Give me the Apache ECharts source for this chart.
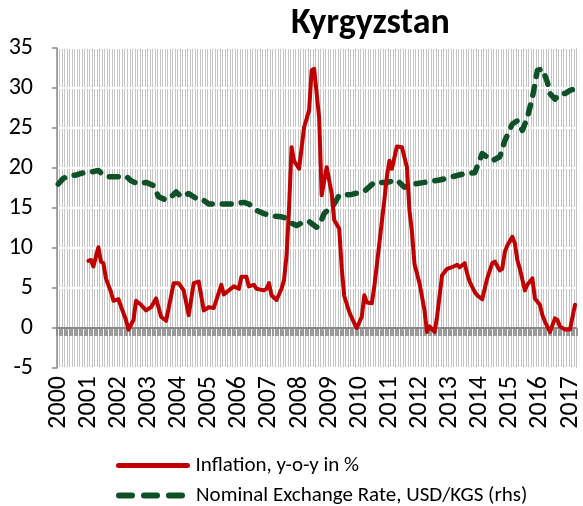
<!DOCTYPE html>
<html>
<head>
<meta charset="utf-8">
<title>Kyrgyzstan</title>
<script src="https://cdn.jsdelivr.net/npm/echarts@6/dist/echarts.min.js"></script>
<style>
html, body { margin: 0; padding: 0; background: #fff; }
#main { width: 583px; height: 506px; }
</style>
</head>
<body>
<div id="main"></div>
<script>
//monthly categories, Jan 2000 - Mar 2017
var months = [];
for (var y = 2000; y <= 2017; y++) {
	for (var mo = 1; mo <= 12; mo++) {
		if (y == 2017 && mo > 3) break;
		months.push(y + '-' + (mo < 10 ? '0' + mo : mo));
	}
}

//Inflation, y-o-y in %
var inflationMonths = ['2001-01','2001-02','2001-03','2001-05','2001-06','2001-07','2001-08','2001-10','2001-11',
	'2002-01','2002-02','2002-04','2002-05','2002-07','2002-08','2002-10','2002-12',
	'2003-02','2003-04','2003-06','2003-08','2003-11','2004-01','2004-03','2004-05','2004-07','2004-09','2004-11',
	'2005-01','2005-03','2005-06','2005-07','2005-09','2005-11','2006-01','2006-02','2006-04','2006-05','2006-07','2006-08','2006-11','2006-12',
	'2007-01','2007-02','2007-04','2007-06','2007-07','2007-08','2007-09','2007-10','2007-11',
	'2008-01','2008-03','2008-05','2008-06','2008-07','2008-09','2008-10','2008-12',
	'2009-02','2009-03','2009-05','2009-06','2009-07','2009-09','2009-11','2009-12',
	'2010-02','2010-03','2010-04','2010-06','2010-07','2010-09','2010-11','2010-12',
	'2011-01','2011-02','2011-04','2011-06','2011-08','2011-09','2011-10','2011-11',
	'2012-01','2012-03','2012-04','2012-05','2012-07','2012-08','2012-10','2012-12',
	'2013-02','2013-04','2013-05','2013-07','2013-08','2013-09','2013-11','2013-12',
	'2014-02','2014-04','2014-06','2014-07','2014-09','2014-10','2014-11','2014-12',
	'2015-02','2015-03','2015-04','2015-05','2015-07','2015-08','2015-10','2015-11',
	'2016-01','2016-02','2016-03','2016-05','2016-07','2016-08','2016-09','2016-11',
	'2017-01','2017-02','2017-03'];
var inflationValues = [8.4,8.5,7.7,10.1,8.3,8.1,6.2,4.5,3.4,
	3.6,2.7,1.0,-0.2,1.0,3.4,2.9,2.2,
	2.6,3.7,1.4,0.9,5.6,5.6,4.7,1.6,5.6,5.8,2.2,
	2.6,2.5,5.4,4.2,4.7,5.2,4.9,6.4,6.4,5.2,5.4,4.9,4.7,4.9,
	5.6,4.1,3.5,4.9,6.0,9.0,15.0,22.6,20.9,
	19.9,25.1,27.2,32.2,32.4,26.3,16.6,20.1,
	16.8,13.5,12.4,7.5,4.0,2.0,0.6,0.0,
	1.4,4.1,3.2,3.1,5.2,10.6,16.0,18.9,
	20.9,19.9,22.7,22.6,20.1,14.7,12.0,8.0,
	5.6,2.2,-0.5,0.2,-0.5,1.4,6.6,7.4,
	7.6,7.9,7.6,8.1,6.8,5.8,4.5,4.1,
	3.6,6.2,8.1,8.3,7.2,7.4,9.5,10.3,
	11.4,10.6,8.5,7.4,4.7,5.4,6.2,3.7,
	2.9,1.6,0.8,-0.5,1.2,1.0,0.2,-0.2,
	-0.2,1.4,2.9];

//Nominal Exchange Rate, USD/KGS (rhs)
var rateMonths = ['2000-01','2000-03','2000-06','2000-08','2000-11','2001-01','2001-05','2001-07','2001-09',
	'2002-01','2002-04','2002-06','2002-09','2002-12','2003-03','2003-05','2003-08','2003-10','2003-12',
	'2004-02','2004-05','2004-08','2004-10','2005-01','2005-07','2005-11','2006-03','2006-05','2006-08','2006-11',
	'2007-02','2007-06','2007-08','2007-10','2007-12','2008-03','2008-05','2008-08','2008-09','2008-11',
	'2009-03','2009-05','2009-10','2010-03','2010-07','2010-12','2011-04','2011-07','2011-11',
	'2012-03','2012-09','2013-02','2013-07','2013-11','2014-02','2014-06','2014-09','2014-11',
	'2015-02','2015-04','2015-06','2015-08','2015-10','2015-12','2016-02','2016-04','2016-05','2016-07','2016-09','2016-11',
	'2017-01','2017-03'];
var rateValues = [18.0,18.7,19.1,19.1,19.4,19.4,19.7,19.1,18.9,
	18.9,19.0,18.4,18.0,18.2,17.8,16.4,16.0,16.4,17.0,
	16.4,16.8,16.2,16.2,15.5,15.5,15.5,15.7,15.5,14.7,14.3,
	14.0,13.9,13.7,13.1,12.8,13.3,13.3,12.6,12.8,14.3,
	15.5,16.6,16.7,17.1,18.2,18.2,18.5,17.6,18.0,
	18.2,18.5,18.9,19.3,19.4,21.8,20.9,21.4,23.4,
	25.5,25.9,24.7,26.3,28.8,32.2,32.4,30.7,29.3,28.6,29.3,29.3,
	29.7,29.9];

var seriesNames = ['Inflation, y-o-y in %', 'Nominal Exchange Rate, USD/KGS (rhs)'];
var FONT = 'Carlito, Lato, sans-serif';

function toPairs(ms, vs) {
	var arr = [];
	for (var i = 0; i < ms.length; i++) {
		arr.push([ms[i], vs[i]]);
	}
	return arr;
}

//one legend per row, so they stack
function legendRow(name, top, lineStyle) {
	return {
		left: 111,
		top: top,
		itemWidth: 69,
		itemHeight: 20,
		itemStyle: { opacity: 0 },
		textStyle: { fontFamily: FONT, fontSize: 21, color: '#000', padding: [0, 0, 0, 3] },
		data: [{ name: name, lineStyle: lineStyle, itemStyle: { opacity: 0 } }]
	};
}

var myChart = echarts.init(document.getElementById('main'));
var option = {
	animation: false,
	title: {
		text: 'Kyrgyzstan',
		left: 286,
		top: 1,
		textStyle: { fontFamily: FONT, fontSize: 36, fontWeight: 'bold', color: '#000' }
	},
	grid: { left: 57, right: 0, top: 48, bottom: 138 },
	legend: [
		legendRow(seriesNames[0], 450, { width: 5, type: 'solid', cap: 'round' }),
		legendRow(seriesNames[1], 480, { width: 6, type: [13, 12], cap: 'round' })
	],
	xAxis: [{
		// bottom axis: year labels + monthly background stripes
		type: 'category',
		data: months,
		position: 'bottom',
		axisLine: { show: false, onZero: false },
		axisTick: { show: false },
		axisLabel: {
			interval: function (i) { return i % 12 == 0; },
			formatter: function (v) { return v.slice(0, 4); },
			rotate: 90,
			margin: 8,
			fontFamily: FONT,
			fontSize: 26,
			color: '#000'
		},
		splitLine: { show: true, interval: 0, lineStyle: { color: '#c4c4c4', width: 1 } }
	}, {
		// axis on zero with dense monthly ticks
		type: 'category',
		data: months,
		position: 'bottom',
		z: 3,
		axisLine: { show: true, onZero: true, lineStyle: { color: '#888888', width: 2 } },
		axisTick: { show: true, interval: 0, length: 8, lineStyle: { color: '#888888', width: 1.6 } },
		axisLabel: { show: false },
		splitLine: { show: false }
	}],
	yAxis: {
		type: 'value',
		min: -5,
		max: 35,
		interval: 5,
		z: 2,
		axisLine: { show: true, lineStyle: { color: '#8c8c8c', width: 1.5 } },
		axisTick: { show: true, length: 5, lineStyle: { color: '#8c8c8c', width: 1.5 } },
		axisLabel: { margin: 24, fontFamily: FONT, fontSize: 24, color: '#000' },
		splitLine: { show: true, lineStyle: { color: '#ffffff', width: 2 } }
	},
	series: [{
		name: seriesNames[0],
		type: 'line',
		xAxisIndex: 0,
		symbol: 'none',
		z: 5,
		lineStyle: { color: '#C00000', width: 4, join: 'round', cap: 'round' },
		itemStyle: { color: '#C00000' },
		data: toPairs(inflationMonths, inflationValues)
	}, {
		name: seriesNames[1],
		type: 'line',
		xAxisIndex: 0,
		symbol: 'none',
		z: 4,
		lineStyle: { color: '#0E5128', width: 5.5, type: [9, 10], join: 'round', cap: 'round' },
		itemStyle: { color: '#0E5128' },
		data: toPairs(rateMonths, rateValues)
	}]
};
myChart.setOption(option);
</script>
</body>
</html>
